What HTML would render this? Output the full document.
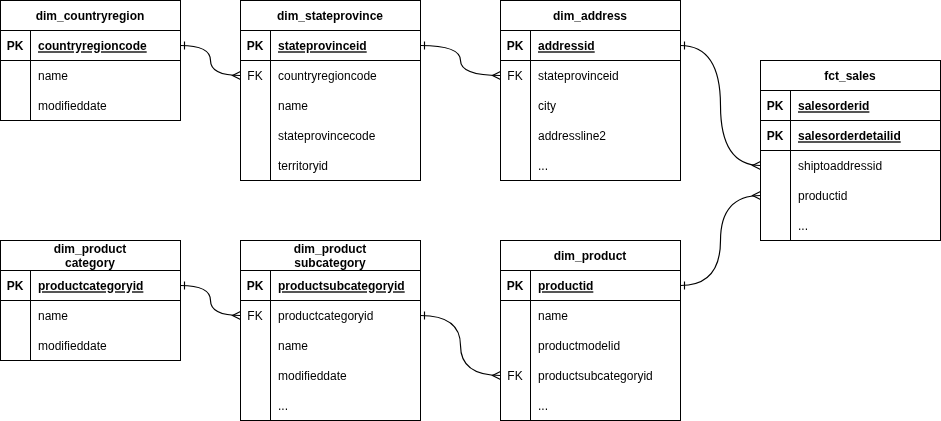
<!DOCTYPE html>
<html><head><meta charset="utf-8"><style>
html,body{margin:0;padding:0;background:#fff;}
body{width:941px;height:421px;position:relative;overflow:hidden;font-family:"Liberation Sans", sans-serif;font-size:12px;color:#000;}
svg{position:absolute;left:0;top:0;}
#tx{position:absolute;left:0;top:0;width:941px;height:421px;will-change:transform;}
svg *{fill:none;stroke:#000;stroke-width:1;}
svg .e{stroke-width:1.15;}
.t,.t2,.k,.f{position:absolute;white-space:nowrap;}
.t{text-align:center;font-weight:bold;}
.t2{text-align:center;font-weight:bold;line-height:14px;padding-top:1px;}
.k{width:30px;height:30px;line-height:30px;text-align:center;}
.b{font-weight:bold;}
.f{height:30px;line-height:30px;}
.bu{font-weight:bold;text-decoration:underline;text-underline-offset:1px;text-decoration-thickness:2px;text-decoration-color:#555;}
</style></head><body>
<svg width="941" height="421" viewBox="0 0 941 421">
<rect x="0.5" y="0.5" width="180" height="120" />
<path d="M0 30.5H181" />
<path d="M30.5 30V121" />
<path d="M0 60.5H181" />
<rect x="240.5" y="0.5" width="180" height="180" />
<path d="M240 30.5H421" />
<path d="M270.5 30V181" />
<path d="M240 60.5H421" />
<rect x="500.5" y="0.5" width="180" height="180" />
<path d="M500 30.5H681" />
<path d="M530.5 30V181" />
<path d="M500 60.5H681" />
<rect x="760.5" y="60.5" width="180" height="180" />
<path d="M760 90.5H941" />
<path d="M790.5 90V241" />
<path d="M760 120.5H941" />
<path d="M760 150.5H941" />
<rect x="0.5" y="240.5" width="180" height="120" />
<path d="M0 270.5H181" />
<path d="M30.5 270V361" />
<path d="M0 300.5H181" />
<rect x="240.5" y="240.5" width="180" height="180" />
<path d="M240 270.5H421" />
<path d="M270.5 270V421" />
<path d="M240 300.5H421" />
<rect x="500.5" y="240.5" width="180" height="180" />
<path d="M500 270.5H681" />
<path d="M530.5 270V421" />
<path d="M500 300.5H681" />
<path class="e" d="M180.5 45.5Q210.5 45.5 210.5 60.5Q210.5 75.5 240.5 75.5" />
<path class="e" d="M184.5 41.5V49.5" />
<path class="e" d="M240.5 71.5L232.5 75.5L240.5 79.5" />
<path class="e" d="M420.5 45.5Q460.5 45.5 460.5 60.5Q460.5 75.5 500.5 75.5" />
<path class="e" d="M424.5 41.5V49.5" />
<path class="e" d="M500.5 71.5L492.5 75.5L500.5 79.5" />
<path class="e" d="M680.5 45.5Q720.5 45.5 720.5 105.5Q720.5 165.5 760.5 165.5" />
<path class="e" d="M684.5 41.5V49.5" />
<path class="e" d="M760.5 161.5L752.5 165.5L760.5 169.5" />
<path class="e" d="M680.5 285.5Q720.5 285.5 720.5 240.5Q720.5 195.5 760.5 195.5" />
<path class="e" d="M684.5 281.5V289.5" />
<path class="e" d="M760.5 191.5L752.5 195.5L760.5 199.5" />
<path class="e" d="M180.5 285.5Q210.5 285.5 210.5 300.5Q210.5 315.5 240.5 315.5" />
<path class="e" d="M184.5 281.5V289.5" />
<path class="e" d="M240.5 311.5L232.5 315.5L240.5 319.5" />
<path class="e" d="M420.5 315.5Q460.5 315.5 460.5 345.5Q460.5 375.5 500.5 375.5" />
<path class="e" d="M424.5 311.5V319.5" />
<path class="e" d="M500.5 371.5L492.5 375.5L500.5 379.5" />
</svg>
<div id="tx">
<div class="t" style="left:0px;top:1px;width:180px;height:30px;line-height:30px">dim_countryregion</div>
<div class="k b" style="left:0px;top:31px;">PK</div>
<div class="f bu" style="left:38px;top:31px;">countryregioncode</div>
<div class="f" style="left:38px;top:61px;">name</div>
<div class="f" style="left:38px;top:91px;">modifieddate</div>
<div class="t" style="left:240px;top:1px;width:180px;height:30px;line-height:30px">dim_stateprovince</div>
<div class="k b" style="left:240px;top:31px;">PK</div>
<div class="f bu" style="left:278px;top:31px;">stateprovinceid</div>
<div class="k" style="left:240px;top:61px;">FK</div>
<div class="f" style="left:278px;top:61px;">countryregioncode</div>
<div class="f" style="left:278px;top:91px;">name</div>
<div class="f" style="left:278px;top:121px;">stateprovincecode</div>
<div class="f" style="left:278px;top:151px;">territoryid</div>
<div class="t" style="left:500px;top:1px;width:180px;height:30px;line-height:30px">dim_address</div>
<div class="k b" style="left:500px;top:31px;">PK</div>
<div class="f bu" style="left:538px;top:31px;">addressid</div>
<div class="k" style="left:500px;top:61px;">FK</div>
<div class="f" style="left:538px;top:61px;">stateprovinceid</div>
<div class="f" style="left:538px;top:91px;">city</div>
<div class="f" style="left:538px;top:121px;">addressline2</div>
<div class="f" style="left:538px;top:151px;">...</div>
<div class="t" style="left:760px;top:61px;width:180px;height:30px;line-height:30px">fct_sales</div>
<div class="k b" style="left:760px;top:91px;">PK</div>
<div class="f bu" style="left:798px;top:91px;">salesorderid</div>
<div class="k b" style="left:760px;top:121px;">PK</div>
<div class="f bu" style="left:798px;top:121px;">salesorderdetailid</div>
<div class="f" style="left:798px;top:151px;">shiptoaddressid</div>
<div class="f" style="left:798px;top:181px;">productid</div>
<div class="f" style="left:798px;top:211px;">...</div>
<div class="t2" style="left:0px;top:241px;width:180px;">dim_product<br>category</div>
<div class="k b" style="left:0px;top:271px;">PK</div>
<div class="f bu" style="left:38px;top:271px;">productcategoryid</div>
<div class="f" style="left:38px;top:301px;">name</div>
<div class="f" style="left:38px;top:331px;">modifieddate</div>
<div class="t2" style="left:240px;top:241px;width:180px;">dim_product<br>subcategory</div>
<div class="k b" style="left:240px;top:271px;">PK</div>
<div class="f bu" style="left:278px;top:271px;">productsubcategoryid</div>
<div class="k" style="left:240px;top:301px;">FK</div>
<div class="f" style="left:278px;top:301px;">productcategoryid</div>
<div class="f" style="left:278px;top:331px;">name</div>
<div class="f" style="left:278px;top:361px;">modifieddate</div>
<div class="f" style="left:278px;top:391px;">...</div>
<div class="t" style="left:500px;top:241px;width:180px;height:30px;line-height:30px">dim_product</div>
<div class="k b" style="left:500px;top:271px;">PK</div>
<div class="f bu" style="left:538px;top:271px;">productid</div>
<div class="f" style="left:538px;top:301px;">name</div>
<div class="f" style="left:538px;top:331px;">productmodelid</div>
<div class="k" style="left:500px;top:361px;">FK</div>
<div class="f" style="left:538px;top:361px;">productsubcategoryid</div>
<div class="f" style="left:538px;top:391px;">...</div>
</div>
</body></html>
